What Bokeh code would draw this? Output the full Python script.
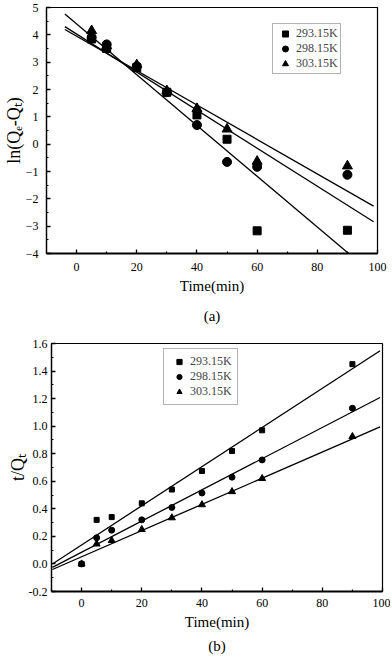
import numpy as np
from bokeh.plotting import figure
from bokeh.models import (FixedTicker, NumeralTickFormatter, Legend, LegendItem,
                          Title, Range1d)
from bokeh.layouts import column, row
from bokeh.embed import file_html
from bokeh.resources import INLINE

# ---------------- data ----------------
series_labels = ["293.15K", "298.15K", "303.15K"]
series_markers = ["square", "circle", "triangle"]

# (a) pseudo-first-order: ln(Qe-Qt) vs time
time_a = [5, 10, 20, 30, 40, 50, 60, 90]
lnq_293 = [3.85, 3.50, 2.80, 1.90, 1.07, 0.18, -3.17, -3.15]
lnq_298 = [3.90, 3.65, 2.85, 1.90, 0.70, -0.65, -0.83, -1.12]
lnq_303 = [4.15, 3.60, 2.90, 1.95, 1.30, 0.55, -0.63, -0.80]
fit_a_slope = [-0.0929, -0.0696, -0.0630]
fit_a_icpt = [4.40, 4.03, 3.95]
fit_a_span = [-3.9, 98.7]

# (b) pseudo-second-order: t/Qt vs time
time_b = [0, 5, 10, 20, 30, 40, 50, 60, 90]
tq_293 = [0.0, 0.32, 0.34, 0.44, 0.54, 0.675, 0.82, 0.97, 1.45]
tq_298 = [0.0, 0.19, 0.245, 0.32, 0.41, 0.515, 0.63, 0.755, 1.13]
tq_303 = [0.0, 0.145, 0.17, 0.25, 0.335, 0.43, 0.525, 0.62, 0.925]
fit_b_slope = [0.01421, 0.01132, 0.00951]
fit_b_icpt = [0.138, 0.085, 0.052]
fit_b_span = [-9.7, 99.2]

x_ticks = [0, 20, 40, 60, 80, 100]
x_minor = [-10, 10, 30, 50, 70, 90]
ya_ticks = [-4, -3, -2, -1, 0, 1, 2, 3, 4, 5]
ya_minor = [-3.5, -2.5, -1.5, -0.5, 0.5, 1.5, 2.5, 3.5, 4.5]
yb_ticks = [-0.2, 0.0, 0.2, 0.4, 0.6, 0.8, 1.0, 1.2, 1.4, 1.6]
yb_minor = [-0.1, 0.1, 0.3, 0.5, 0.7, 0.9, 1.1, 1.3, 1.5]

FONT = "Liberation Serif"


def style(p, xlabel, ylabel, ystandoff, xstandoff, ylabel_standoff, xlabel_standoff):
    p.xgrid.visible = False
    p.ygrid.visible = False
    p.outline_line_color = "black"
    p.outline_line_width = 1.2
    p.outline_line_alpha = 1.0
    p.background_fill_color = "white"
    p.border_fill_color = "white"
    for ax in (p.xaxis[0], p.yaxis[0]):
        ax.major_tick_in = 4
        ax.major_tick_out = 0
        ax.minor_tick_in = 2
        ax.minor_tick_out = 0
        ax.major_tick_line_color = "black"
        ax.minor_tick_line_color = "black"
        ax.major_tick_line_width = 1.3
        ax.minor_tick_line_width = 1.2
        ax.axis_line_color = "black"
        ax.major_label_text_font = FONT
        ax.major_label_text_font_size = "12px"
        ax.major_label_text_color = "black"
        ax.axis_label_text_font = FONT
        ax.axis_label_text_font_style = "normal"
        ax.axis_label_text_color = "black"
    p.xaxis[0].axis_label_text_font_size = "15px"
    p.yaxis[0].axis_label_text_font_size = "18px"
    p.xaxis[0].axis_line_width = 2
    p.yaxis[0].axis_line_width = 1.3
    p.xaxis[0].axis_label = xlabel
    p.yaxis[0].axis_label = ylabel
    p.yaxis[0].major_label_standoff = ystandoff
    p.xaxis[0].major_label_standoff = xstandoff
    p.yaxis[0].axis_label_standoff = ylabel_standoff
    p.xaxis[0].axis_label_standoff = xlabel_standoff


def add_series(p, xs, ys_list, sizes):
    rs = []
    for ys, m, s in zip(ys_list, series_markers, sizes):
        rs.append(p.scatter(xs, ys, marker=m, size=s, color="black"))
    return rs


def add_fits(p, slopes, icpts, span):
    xs = np.array(span, dtype=float)
    for a, b in zip(slopes, icpts):
        p.line(xs, a * xs + b, line_color="black", line_width=1.3)


# ---------------- figure (a) ----------------
pa = figure(frame_width=331, frame_height=246, title=None,
            x_range=Range1d(-10, 100), y_range=Range1d(-4, 5),
            output_backend="svg", toolbar_location=None,
            min_border_left=46, min_border_right=13,
            min_border_top=7, min_border_bottom=80)
style(pa, "Time(min)", "ln(Q\u2091-Q\u209c)", 8, 9, -1, 4)
pa.xaxis[0].ticker = FixedTicker(ticks=x_ticks, minor_ticks=x_minor)
pa.yaxis[0].ticker = FixedTicker(ticks=ya_ticks, minor_ticks=ya_minor)
add_fits(pa, fit_a_slope, fit_a_icpt, fit_a_span)
ra = add_series(pa, time_a, [lnq_293, lnq_298, lnq_303], [8, 9, 10])
leg_a = Legend(items=[LegendItem(label=l, renderers=[r]) for l, r in zip(series_labels, ra)],
               location=(226, 179), orientation="vertical",
               glyph_width=20, glyph_height=15, label_height=15,
               spacing=0, padding=2, margin=0, label_standoff=1,
               label_text_font=FONT, label_text_font_size="12px",
               border_line_color="#666666", border_line_width=1,
               background_fill_color="white", background_fill_alpha=1)
pa.add_layout(leg_a)
ta = Title(text="(a)", align="center", text_font=FONT, text_font_size="15px",
           text_font_style="normal", text_color="black", standoff=18)
pa.add_layout(ta, "below")

# ---------------- figure (b) ----------------
pb = figure(frame_width=331, frame_height=248, title=None,
            x_range=Range1d(-10, 100), y_range=Range1d(-0.2, 1.6),
            output_backend="svg", toolbar_location=None,
            min_border_left=51, min_border_right=8,
            min_border_top=10, min_border_bottom=68)
style(pb, "Time(min)", "t/Q\u209c", 4, 7, -2, 4)
pb.xaxis[0].ticker = FixedTicker(ticks=x_ticks, minor_ticks=x_minor)
pb.yaxis[0].ticker = FixedTicker(ticks=yb_ticks, minor_ticks=yb_minor)
pb.yaxis[0].formatter = NumeralTickFormatter(format="0.0")
add_fits(pb, fit_b_slope, fit_b_icpt, fit_b_span)
rb = add_series(pb, time_b, [tq_293, tq_298, tq_303], [5, 6, 7])
leg_b = Legend(items=[LegendItem(label=l, renderers=[r]) for l, r in zip(series_labels, rb)],
               location=(112, 186), orientation="vertical",
               glyph_width=20, glyph_height=13, label_height=13,
               spacing=0, padding=5, margin=0, label_standoff=1,
               label_text_font=FONT, label_text_font_size="12px",
               border_line_color="#666666", border_line_width=1,
               background_fill_color="white", background_fill_alpha=1)
pb.add_layout(leg_b)
tb = Title(text="(b)", align="center", text_font=FONT, text_font_size="15px",
           text_font_style="normal", text_color="black", standoff=6)
pb.add_layout(tb, "below")

layout = column(row(pa), row(pb), spacing=0)
open("out.html", "w").write(file_html(layout, INLINE))
